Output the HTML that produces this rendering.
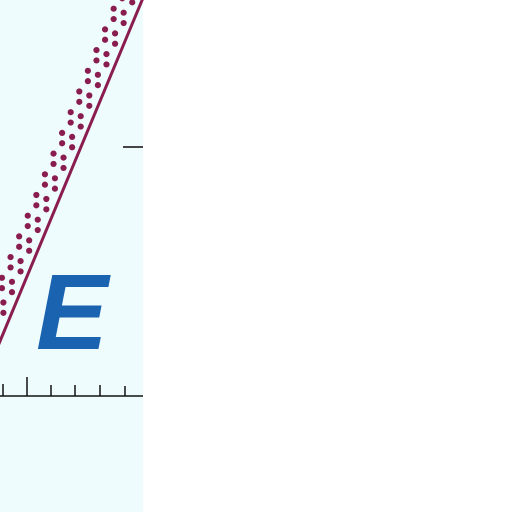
<!DOCTYPE html>
<html><head><meta charset="utf-8"><style>
html,body{margin:0;padding:0;background:#fff;width:512px;height:512px;overflow:hidden}
</style></head><body>
<svg width="512" height="512" viewBox="0 0 512 512" xmlns="http://www.w3.org/2000/svg">
<rect x="0" y="0" width="143" height="512" fill="#eefcfd"/>
<g id="dots" fill="#8a1d4f"></g>
<line x1="143" y1="-2" x2="-2" y2="346" stroke="#8a1d4f" stroke-width="3"/>
<text x="36" y="349" font-family="Liberation Sans, sans-serif" font-weight="bold" font-style="italic" font-size="108" fill="#1a63b0">E</text>
<line x1="0" y1="396" x2="143" y2="396" stroke="#111" stroke-width="1.5"/>
<g stroke="#111" stroke-width="1.5">
<line x1="3" y1="384" x2="3" y2="396"/><line x1="27" y1="377" x2="27" y2="396"/><line x1="51" y1="385" x2="51" y2="396"/><line x1="75" y1="385" x2="75" y2="396"/><line x1="100" y1="385" x2="100" y2="396"/><line x1="125" y1="386" x2="125" y2="396"/>
</g>
<line x1="123" y1="147" x2="143" y2="147" stroke="#444" stroke-width="2"/>
</svg>
<script>
var g=document.getElementById('dots');
function lx(y){return 142-y*0.415;}
var k=0;
for(var y=-8;y<335;y+=10.35,k++){
  var yb=y-(k%2)*10.35+5;
  [[11,0],[21,-4]].forEach(function(c){
    var yy=y+c[1];var x=lx(yb)-c[0];
    if(x<-3)return;
    var el=document.createElementNS('http://www.w3.org/2000/svg','circle');
    
    
    el.setAttribute('cx',x);el.setAttribute('cy',yy);el.setAttribute('r',3.1);
    g.appendChild(el);
  });
}
</script>
</body></html>
